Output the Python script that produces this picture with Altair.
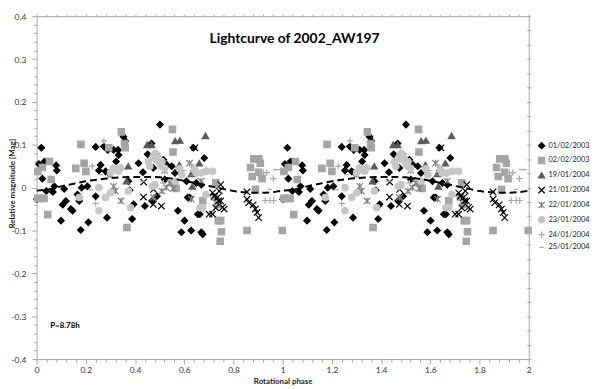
import altair as alt
import pandas as pd

series_names = ["01/02/2003", "02/02/2003", "19/01/2004", "21/01/2004",
                "22/01/2004", "23/01/2004", "24/01/2004", "25/01/2004"]

# rotational phase (0-1) and relative magnitude of each night
d1_phase = [0.019, 0.009, 0.032, 0.079, 0.082, 0.023, 0.001, 0.039, 0.066, 0.072,
            0.112, 0.119, 0.106, 0.099, 0.139, 0.146, 0.166, 0.173, 0.179, 0.183,
            0.206, 0.210, 0.240, 0.240, 0.253, 0.260, 0.273, 0.289, 0.280, 0.293,
            0.286, 0.313, 0.331, 0.323, 0.333, 0.353, 0.360, 0.373, 0.378, 0.394,
            0.388, 0.414, 0.432, 0.440, 0.451, 0.467, 0.474, 0.469, 0.489, 0.501,
            0.515, 0.521, 0.529, 0.549, 0.562, 0.574, 0.588, 0.601, 0.609, 0.614,
            0.622, 0.628, 0.637, 0.649, 0.655, 0.663, 0.669, 0.669, 0.675, 0.681]
d1_mag = [0.093, 0.055, 0.061, 0.052, 0.040, 0.021, -0.027, -0.008, -0.010, 0.003,
          -0.003, -0.031, -0.040, -0.077, -0.050, -0.054, -0.016, -0.031, -0.099, 0.000,
          0.003, -0.081, 0.095, -0.020, 0.040, 0.053, 0.096, 0.088, 0.038, 0.034,
          -0.070, 0.088, 0.088, 0.061, 0.076, 0.119, 0.109, 0.015, -0.006, -0.039,
          -0.073, 0.057, 0.036, -0.043, 0.078, 0.103, 0.046, -0.031, -0.020, 0.147,
          0.065, 0.019, 0.053, 0.050, 0.034, -0.054, -0.104, -0.077, 0.015, -0.023,
          -0.023, -0.100, 0.093, 0.011, -0.062, -0.062, 0.007, -0.104, -0.109, 0.069]

d2_phase = [0.005, 0.023, 0.052, 0.059, 0.004, 0.014, 0.030, 0.045, 0.159, 0.180,
            0.193, 0.200, 0.293, 0.344, 0.357, 0.360, 0.367, 0.552, 0.554, 0.561,
            0.567, 0.675, 0.722, 0.728, 0.735, 0.738, 0.748, 0.751, 0.746, 0.855,
            0.869, 0.876, 0.882, 0.889, 0.902, 0.903, 0.909, 0.916, 0.998]
d2_mag = [0.038, 0.047, 0.061, 0.019, -0.025, -0.025, -0.025, -0.063, 0.045, 0.101,
          0.057, 0.038, 0.093, 0.130, 0.103, 0.093, -0.093, 0.136, 0.083, 0.013,
          -0.002, -0.031, -0.022, 0.011, -0.039, -0.077, -0.077, -0.103, -0.125, -0.100,
          0.047, 0.026, 0.067, -0.004, 0.036, 0.067, 0.057, 0.021, -0.100]

d3_phase = [0.365, 0.372, 0.449, 0.467, 0.563, 0.582, 0.686, 0.661, 0.580, 0.629, 0.633]
d3_mag = [0.015, 0.050, 0.100, 0.100, 0.109, 0.110, 0.121, 0.057, 0.053, 0.032, 0.003]

d4_phase = [0.434, 0.435, 0.475, 0.474, 0.507, 0.643, 0.701, 0.715, 0.715, 0.722,
            0.728, 0.735, 0.739, 0.742, 0.748, 0.748, 0.755, 0.762, 0.855, 0.855,
            0.862, 0.880, 0.889, 0.896, 0.902]
d4_mag = [-0.022, 0.013, -0.004, -0.039, -0.043, 0.093, -0.062, -0.062, -0.012, -0.020,
          -0.047, -0.023, -0.031, -0.008, 0.007, -0.031, -0.046, -0.050, -0.010, -0.027,
          -0.035, -0.040, -0.050, -0.058, -0.070]

d5_phase = [0.313, 0.320, 0.343, 0.489, 0.475, 0.509, 0.527, 0.541, 0.555, 0.621,
            0.636, 0.629, 0.668, 0.300, 0.520]
d5_mag = [0.003, -0.008, -0.031, 0.073, -0.023, -0.008, 0.000, 0.011, -0.002, 0.057,
          0.034, -0.027, 0.015, 0.030, 0.040]

d6_phase = [0.320, 0.333, 0.313, 0.341, 0.300, 0.253, 0.300, 0.280, 0.253, 0.173,
            0.373, 0.382, 0.474, 0.482, 0.485, 0.494, 0.500, 0.507, 0.509, 0.455,
            0.460, 0.469, 0.481, 0.520, 0.562, 0.581, 0.590, 0.641, 0.649, 0.668,
            0.688, 0.692, 0.715, 0.688, 0.663, 0.675]
d6_mag = [0.042, 0.038, 0.046, 0.046, 0.035, 0.000, -0.012, -0.023, -0.054, -0.023,
          -0.008, -0.047, 0.073, 0.080, 0.065, 0.069, 0.057, 0.050, 0.061, 0.060,
          0.050, 0.003, 0.007, 0.045, 0.015, 0.044, 0.030, 0.042, 0.034, 0.034,
          0.038, 0.038, 0.038, -0.016, -0.047, -0.046]

d7_phase = [0.273, 0.226, 0.240, 0.628, 0.922, 0.935, 0.962, 0.929, 0.949, 0.963, 0.515]
d7_mag = [0.109, 0.050, -0.037, 0.053, 0.035, 0.035, 0.021, -0.030, -0.030, -0.030, 0.011]

d8_phase = [0.969, 0.982, 0.983, 0.947, 0.260, 0.430, 0.600, 0.220]
d8_mag = [0.042, 0.042, -0.008, -0.004, 0.030, 0.015, 0.040, -0.005]

# fitted light curve (one cycle)
fit_phase = [0.00, 0.05, 0.10, 0.15, 0.20, 0.25, 0.30, 0.35, 0.40, 0.45, 0.50,
             0.55, 0.60, 0.65, 0.70, 0.75, 0.80, 0.85, 0.90, 0.95, 1.00]
fit_mag = [-0.007, -0.004, 0.003, 0.009, 0.015, 0.019, 0.022, 0.024, 0.025, 0.025, 0.024,
           0.021, 0.016, 0.010, 0.004, -0.002, -0.008, -0.011, -0.012, -0.011, -0.007]

cycles = [0, 1]
note_text = ["P=8.78h"]
note_phase = [0.055]
note_mag = [-0.322]

x_ticks = [round(0.04 * i, 2) for i in range(51)]
y_ticks = [round(-0.4 + 0.02 * i, 2) for i in range(41)]
r_ticks = [round(-0.4 + 0.8 * i / 24, 4) for i in range(25)]

# ---------------------------------------------------------------
all_series = [(series_names[0], d1_phase, d1_mag), (series_names[1], d2_phase, d2_mag),
              (series_names[2], d3_phase, d3_mag), (series_names[3], d4_phase, d4_mag),
              (series_names[4], d5_phase, d5_mag), (series_names[5], d6_phase, d6_mag),
              (series_names[6], d7_phase, d7_mag), (series_names[7], d8_phase, d8_mag)]
rows = []
for name, ph, mg in all_series:
    for c in cycles:
        for p, m in zip(ph, mg):
            rows.append({"series": name, "phase": p + c, "mag": m})
pts = pd.DataFrame(rows)

fit_rows = []
for c in cycles:
    for p, m in zip(fit_phase, fit_mag):
        if c == 1 and p == 0:
            continue
        fit_rows.append({"phase": p + c, "mag": m})
fit = pd.DataFrame(fit_rows)

note = pd.DataFrame({"phase": note_phase, "mag": note_mag, "label": note_text})

X_PATH = "M-1,-1L1,1M-1,1L1,-1"
STAR_PATH = "M-1,-1L1,1M-1,1L1,-1M0,-1L0,1"
PLUS_PATH = "M-1,0L1,0M0,-1L0,1"
DASH_PATH = "M-0.7,0L0.7,0"
shapes = ["diamond", "square", "triangle-up", X_PATH, STAR_PATH, "circle", PLUS_PATH, DASH_PATH]
fills = ["#000000", "#a5a5a5", "#5a5a5a", "transparent", "transparent", "#c6c6c6",
         "transparent", "transparent"]
strokes = ["#000000", "#a5a5a5", "#5a5a5a", "#000000", "#808080", "#c6c6c6",
           "#a8a8a8", "#a8a8a8"]

xs = alt.Scale(domain=[0, 2], nice=False, zero=False)
ys = alt.Scale(domain=[-0.4, 0.4], nice=False, zero=False)

x_major = "abs(datum.value*5 - round(datum.value*5)) < 0.001"
y_major = "abs(datum.value*10 - round(datum.value*10)) < 0.001"

bottom_axis = alt.Axis(orient="bottom", values=x_ticks, labelOverlap=False, labelFlush=False,
                       labelExpr=f"{x_major} ? toString(round(datum.value*10)/10) : ''",
                       tickSize={"condition": {"test": x_major, "value": 5}, "value": 3},
                       labelPadding=2, title="Rotational phase", titleY=19)
left_axis = alt.Axis(orient="left", values=y_ticks, labelOverlap=False, labelFlush=False,
                     labelExpr=f"{y_major} ? toString(round(datum.value*10)/10) : ''",
                     tickSize={"condition": {"test": y_major, "value": 5}, "value": 3},
                     labelPadding=6, title="Relative magnitude [Mag]",
                     titleX=-24, titleY=169, titleBaseline="middle")
top_axis = alt.Axis(orient="top", values=x_ticks, labels=False, tickSize=2, title=None)
right_axis = alt.Axis(orient="right", values=r_ticks, labels=False, tickSize=4, offset=-2,
                      title=None)

legend = alt.Legend(orient="none", legendX=507, legendY=127, title=None,
                    labelFont="Lato", labelFontSize=7.5, labelColor="#222222",
                    symbolSize=40, symbolStrokeWidth=1.2, rowPadding=3, labelOffset=3,
                    padding=0)

points = alt.Chart(pts).mark_point(opacity=1, size=42, strokeWidth=1.2).encode(
    x=alt.X("phase:Q", scale=xs, axis=bottom_axis),
    y=alt.Y("mag:Q", scale=ys, axis=left_axis),
    shape=alt.Shape("series:N", scale=alt.Scale(domain=series_names, range=shapes), legend=legend),
    fill=alt.Fill("series:N", scale=alt.Scale(domain=series_names, range=fills), legend=legend),
    stroke=alt.Stroke("series:N", scale=alt.Scale(domain=series_names, range=strokes), legend=legend),
)

curve = alt.Chart(fit).mark_line(color="black", strokeWidth=2, strokeDash=[7, 4],
                                 interpolate="monotone").encode(
    x=alt.X("phase:Q", scale=xs, axis=top_axis),
    y=alt.Y("mag:Q", scale=ys, axis=right_axis),
)

label = alt.Chart(note).mark_text(align="left", baseline="middle", font="Lato",
                                  fontSize=8, fontWeight="bold", color="black").encode(
    x=alt.X("phase:Q", scale=xs, axis=None),
    y=alt.Y("mag:Q", scale=ys, axis=None),
    text="label:N",
)

chart = alt.layer(points, curve, label).properties(
    width=498, height=347,
    padding={"left": 29, "top": 6, "right": 64, "bottom": 28},
    autosize=alt.AutoSizeParams(type="none"),
    title=alt.TitleParams("Lightcurve of 2002_AW197", font="Lato", fontSize=14,
                          fontWeight="bold", color="black", anchor="middle", dx=12, dy=38),
).configure_view(
    stroke="#a6a6a6", strokeWidth=1
).configure_axis(
    domain=False, grid=False, tickColor="#a6a6a6", tickWidth=1,
    labelFont="Lato", labelFontSize=8.5, labelColor="#333333",
    titleFont="Lato", titleFontSize=8, titleFontWeight="bold", titleColor="#222222"
)

chart.save("out.html", embed_options={"renderer": "svg", "actions": False})
